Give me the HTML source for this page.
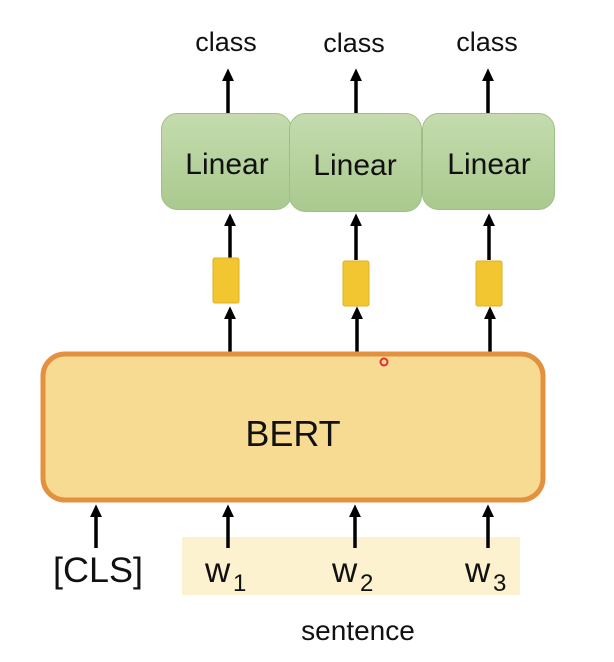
<!DOCTYPE html>
<html><head><meta charset="utf-8"><style>
html,body{margin:0;padding:0;background:#fff;}
svg{display:block;}
text{font-family:"Liberation Sans",sans-serif;fill:#111;}
</style></head><body>
<svg width="614" height="662" viewBox="0 0 614 662" xmlns="http://www.w3.org/2000/svg">
<defs>
<marker id="a" markerWidth="4" markerHeight="4" refX="2" refY="2" orient="auto" markerUnits="strokeWidth">
<path d="M0,0.3 L3.6,2 L0,3.7 z" fill="#000"/></marker>
<linearGradient id="g" x1="0" y1="0" x2="0" y2="1"><stop offset="0" stop-color="#c5dcae"/><stop offset="1" stop-color="#a9c98e"/></linearGradient>
</defs>
<rect width="614" height="662" fill="#fff"/>
<text x="226" y="51" font-size="27" text-anchor="middle">class</text>
<text x="354" y="52" font-size="27" text-anchor="middle">class</text>
<text x="487" y="51" font-size="27" text-anchor="middle">class</text>
<g stroke="#000" stroke-width="3.5" marker-end="url(#a)">
<line x1="228" y1="113" x2="228" y2="74"/>
<line x1="356" y1="113" x2="356" y2="74"/>
<line x1="488" y1="113" x2="488" y2="74"/>
<line x1="230" y1="258" x2="230" y2="219"/>
<line x1="356" y1="260" x2="356" y2="219"/>
<line x1="489" y1="260" x2="489" y2="219"/>
<line x1="230" y1="352" x2="230" y2="312"/>
<line x1="357" y1="352" x2="357" y2="312"/>
<line x1="490" y1="352" x2="490" y2="312"/>
</g>
<rect x="161.5" y="113.5" width="130" height="96" rx="16" fill="url(#g)" stroke="#9dbf85"/>
<rect x="289.5" y="113.5" width="132" height="98" rx="16" fill="url(#g)" stroke="#9dbf85"/>
<rect x="422.5" y="113.5" width="132" height="96" rx="16" fill="url(#g)" stroke="#9dbf85"/>
<text x="227" y="174" font-size="30" text-anchor="middle">Linear</text>
<text x="355" y="175" font-size="30" text-anchor="middle">Linear</text>
<text x="489" y="174" font-size="30" text-anchor="middle">Linear</text>
<rect x="213" y="258" width="26" height="45" rx="2" fill="#f1c630" stroke="#e0b020"/>
<rect x="343" y="261" width="26" height="45" rx="2" fill="#f1c630" stroke="#e0b020"/>
<rect x="476" y="261" width="26" height="45" rx="2" fill="#f1c630" stroke="#e0b020"/>
<rect x="43" y="354" width="500" height="146" rx="22" fill="#f8db93" stroke="#e3913f" stroke-width="5"/>
<text x="293" y="446" font-size="36" text-anchor="middle">BERT</text>
<circle cx="384" cy="362" r="3.5" fill="none" stroke="#e03030" stroke-width="2"/>
<rect x="182" y="537" width="338" height="58" fill="#fdf2cf"/>
<g stroke="#000" stroke-width="3.5" marker-end="url(#a)">
<line x1="96" y1="548" x2="96" y2="510"/>
<line x1="228" y1="548" x2="228" y2="510"/>
<line x1="355" y1="548" x2="355" y2="510"/>
<line x1="488" y1="548" x2="488" y2="510"/>
</g>
<text x="98" y="582" font-size="35" text-anchor="middle" textLength="90" lengthAdjust="spacingAndGlyphs">[CLS]</text>
<text x="205" y="582" font-size="35">w</text><text x="233" y="591" font-size="24">1</text>
<text x="332" y="582" font-size="35">w</text><text x="360" y="591" font-size="24">2</text>
<text x="465" y="582" font-size="35">w</text><text x="493" y="591" font-size="24">3</text>
<text x="358" y="640" font-size="28" text-anchor="middle">sentence</text>
</svg>
</body></html>
